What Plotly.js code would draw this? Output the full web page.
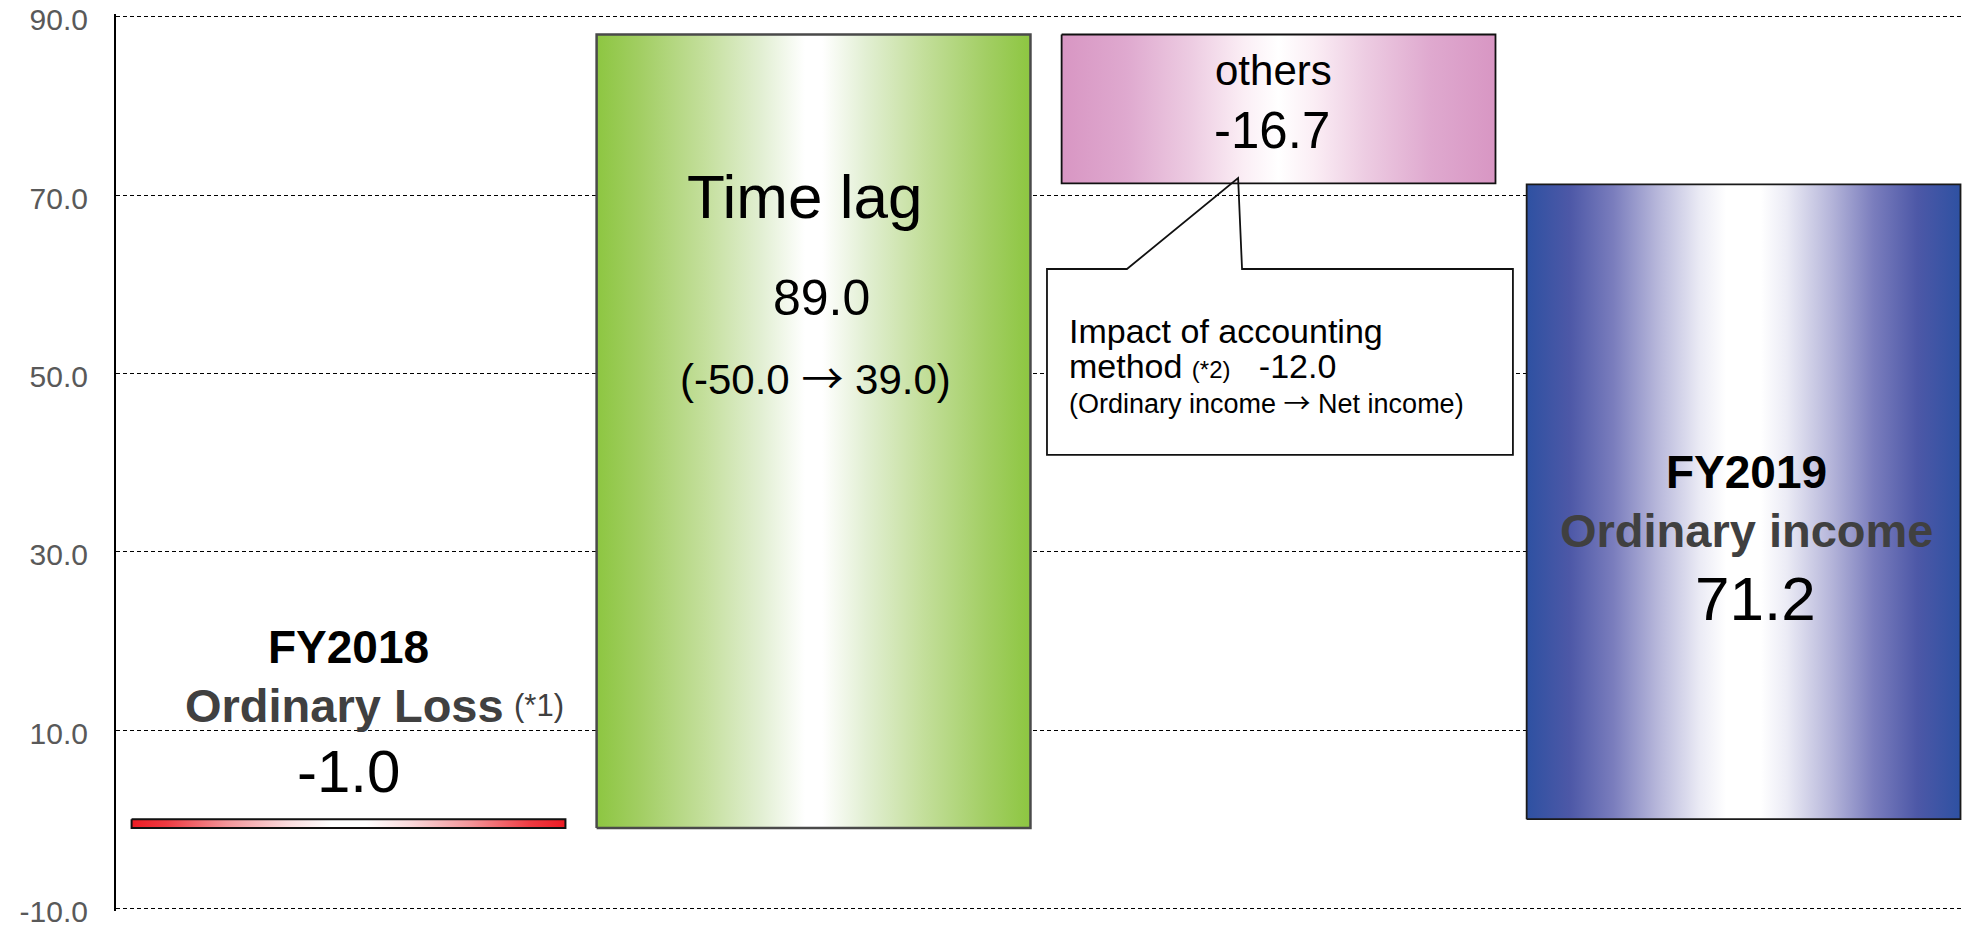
<!DOCTYPE html>
<html>
<head>
<meta charset="utf-8">
<script src="https://cdn.plot.ly/plotly-3.0.1.min.js"></script>
<style>
  html, body { margin: 0; padding: 0; background: #ffffff; }
  #chart { width: 1964px; height: 927px; }
</style>
</head>
<body>
<div id="chart"></div>
<script>
// Ordinary income bridge, FY2018 -> FY2019 (billion yen)
const categories = ['FY2018 Ordinary Loss', 'Time lag', 'others', 'FY2019 Ordinary income'];
const values = [-1.0, 89.0, -16.7, 71.2];
const measures = ['absolute', 'relative', 'relative', 'total'];
const tickValues = [-10, 10, 30, 50, 70, 90];
const tickLabels = ['-10.0', '10.0', '30.0', '50.0', '70.0', '90.0'];

// Horizontal "cylinder" gradients for each step
const gradients = [
  [[0, '#ED1C24'], [0.08, '#EE3A41'], [0.22, '#F39599'], [0.36, '#FADADC'], [0.46, '#FFFFFF'],
   [0.54, '#FFFFFF'], [0.64, '#FADADC'], [0.78, '#F39599'], [0.92, '#EE3A41'], [1, '#ED1C24']],
  [[0, '#8DC641'], [0.1, '#A2CE63'], [0.25, '#C4DF9C'], [0.38, '#E2EFD3'], [0.48, '#FFFFFF'],
   [0.52, '#FFFFFF'], [0.62, '#E2EFD3'], [0.75, '#C4DF9C'], [0.9, '#A2CE63'], [1, '#8DC641']],
  [[0, '#D896C3'], [0.15, '#DFA9CF'], [0.3, '#EDCCE2'], [0.42, '#FBEEF5'], [0.5, '#FFFFFF'],
   [0.58, '#FBEEF5'], [0.7, '#EDCCE2'], [0.85, '#DFA9CF'], [1, '#D896C3']],
  [[0, '#2E51A2'], [0.1, '#4D58A7'], [0.2, '#7A7DBD'], [0.3, '#B6B6DA'], [0.4, '#EBEBF5'], [0.46, '#FFFFFF'],
   [0.54, '#FFFFFF'], [0.6, '#EBEBF5'], [0.7, '#B6B6DA'], [0.8, '#7A7DBD'], [0.9, '#4D58A7'], [1, '#2E51A2']]
];
const outlineColors = ['#111111', '#4a4a4a', '#111111', '#1a1a1a'];
const outlineWidths = [2, 2.5, 1.8, 1.8];
const barWidth = 0.933;

// Waterfall bases from the running total
const bases = [];
let running = 0;
values.forEach((v, i) => {
  if (measures[i] === 'relative') { bases.push(running); running += v; }
  else { bases.push(0); running = v; }
});

const traces = values.map((v, i) => {
  const x0 = i - barWidth / 2, x1 = i + barWidth / 2;
  const y0 = bases[i], y1 = bases[i] + v;
  return {
    type: 'scatter',
    mode: 'lines',
    name: categories[i],
    x: [x0, x1, x1, x0, x0],
    y: [y0, y0, y1, y1, y0],
    fill: 'toself',
    fillgradient: { type: 'horizontal', colorscale: gradients[i] },
    line: { color: outlineColors[i], width: outlineWidths[i] },
    hoverinfo: 'skip',
    showlegend: false
  };
});

const FONT = 'Liberation Sans, Arial, Helvetica, sans-serif';
const ARROW = '<span style="font-family:\'Noto Sans CJK JP\'">\u2192</span>';
const fmt = v => v.toFixed(1);

function label(text, x, y, size, opts) {
  return Object.assign({
    text: text, x: x, y: y, xref: 'x', yref: 'y',
    showarrow: false, xanchor: 'center', yanchor: 'middle',
    font: { family: FONT, size: size, color: '#000000' }
  }, opts || {});
}

// Callout note: three lines in one block
const calloutText =
  '<span style="font-size:34px">Impact of accounting</span><br>' +
  '<span style="font-size:34px">method </span><span style="font-size:24px">(*2)</span>' +
  '<span style="font-size:34px">\u00a0\u00a0\u00a0-12.0</span><br>' +
  '(Ordinary income ' + ARROW + ' Net income)';

const annotations = [
  // FY2018
  label('<b>FY2018</b>', 0, 19.3, 46),
  label('<b>Ordinary Loss</b>', -0.356, 12.8, 47,
        { xanchor: 'left', font: { family: FONT, size: 47, color: '#404040' } }),
  label('(*1)', 0.352, 12.8, 31,
        { xanchor: 'left', font: { family: FONT, size: 31, color: '#404040' } }),
  label(fmt(values[0]), 0, 5.3, 60),
  // Time lag
  label('Time lag', 0.98, 69.8, 62),
  label(fmt(values[1]), 1.018, 58.5, 50),
  label('(-50.0 ' + ARROW + ' 39.0)', 1.005, 49.8, 42),
  // others
  label('others', 1.99, 84.0, 42),
  label(fmt(values[2]), 1.985, 77.2, 51),
  // accounting impact callout
  label(calloutText, 1.545, 50.8, 27, { xanchor: 'left', align: 'left' }),
  // FY2019
  label('<b>FY2019</b>', 3.007, 38.9, 46),
  label('<b>Ordinary income</b>', 3.007, 32.4, 47, { font: { family: FONT, size: 47, color: '#404040' } }),
  label(fmt(values[3]), 3.025, 24.7, 62)
];

const shapes = [
  // callout body
  { type: 'rect', xref: 'x', yref: 'y', x0: 1.502, x1: 2.504, y0: 40.85, y1: 61.7,
    fillcolor: '#ffffff', line: { width: 0 }, layer: 'above' },
  // callout outline with pointer towards "others"
  { type: 'path', xref: 'x', yref: 'y', layer: 'above',
    path: 'M 1.674 61.7 L 1.913 71.9 L 1.9215 61.7 L 2.504 61.7 L 2.504 40.85 L 1.502 40.85 L 1.502 61.7 Z',
    fillcolor: 'rgba(0,0,0,0)', line: { color: '#111111', width: 1.8 } }
];

const layout = {
  width: 1964,
  height: 927,
  margin: { l: 116, r: 0, t: 14, b: 16, pad: 0 },
  paper_bgcolor: '#ffffff',
  plot_bgcolor: '#ffffff',
  showlegend: false,
  xaxis: {
    range: [-0.5, 3.474],
    showgrid: false, zeroline: false, showline: false,
    showticklabels: false, ticks: '', fixedrange: true
  },
  yaxis: {
    range: [-10.3, 90.3],
    tickmode: 'array', tickvals: tickValues, ticktext: tickLabels,
    showgrid: true, gridcolor: '#000000', gridwidth: 1, griddash: '4px,3px',
    zeroline: false,
    showline: true, linecolor: '#000000', linewidth: 2,
    ticks: '', ticklabelstandoff: 20, ticklabelshift: 3, ticklabeloverflow: 'allow',
    tickfont: { family: FONT, size: 30, color: '#595959' },
    fixedrange: true
  },
  annotations: annotations,
  shapes: shapes
};

Plotly.newPlot('chart', traces, layout, { displayModeBar: false, staticPlot: true });
</script>
</body>
</html>
